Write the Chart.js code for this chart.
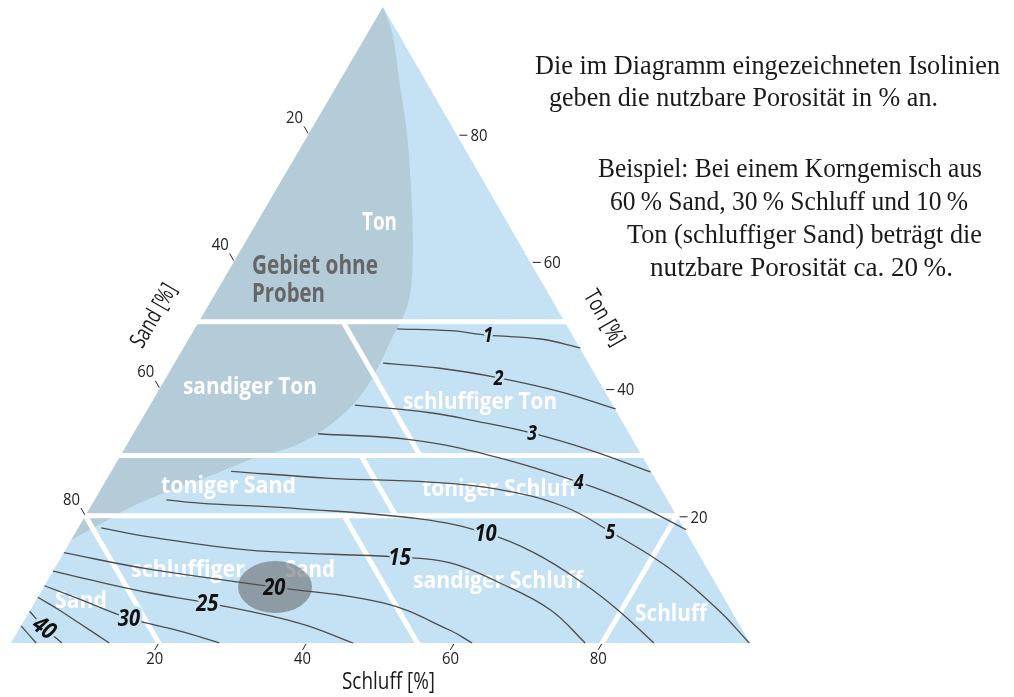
<!DOCTYPE html>
<html><head><meta charset="utf-8">
<script src="https://cdn.jsdelivr.net/npm/chart.js@4.4.1/dist/chart.umd.min.js"></script>
<style>html,body{margin:0;padding:0;background:#fff;overflow:hidden}canvas{display:block}</style>
</head><body>
<canvas id="c" width="1014" height="697" style="width:1014px;height:697px"></canvas>
<script>
// ===== DATA (ternary coordinates: [Schluff %, Ton %]; Sand = 100 - Schluff - Ton) =====
const sandTicks = [20, 40, 60, 80];
const schluffTicks = [20, 40, 60, 80];
const tonTicks = [20, 40, 60, 80];

// area without samples (boundary, apex -> left edge)
const gebietOhneProben = [[0,100],[3.3,95.9],[8.3,88.0],[13.2,80.2],[17.7,72.3],[21.9,64.5],[24.8,58.6],[26.7,53.9],[27.3,50.8],[27.4,48.1],[27.8,44.0],[27.7,38.7],[26.1,34.6],[23.3,31.4],[20.4,29.9],[17.8,28.8],[14.4,26.7],[10.5,24.5],[6.3,22.0],[3.5,19.5],[0,16.2]];

// soil-class borders (white lines)
const zoneBorders = [
  [[-1,50.5],[50.5,50.5]],
  [[-1,29.5],[71.5,29.5]],
  [[-1,20],[81,20]],
  [[19.5,50.5],[40.5,29.5]],
  [[32.5,29.5],[42,20]],
  [[0,20],[20.5,-0.5]],
  [[35,20],[55.5,-0.5]],
  [[80,20],[80,-0.5]]
];

// isolines of usable porosity (%)
const iso1  = [[27.4,49.4],[34.7,49.1],[40.2,48.4],[47.6,47.8],[53.7,46.4]];
const iso2  = [[28.2,44.0],[36.3,43.2],[45.0,41.7],[54.5,39.5],[63.3,36.8]];
const iso3  = [[27.7,37.4],[38.5,36.2],[45.3,34.9],[53.9,33.0],[63.2,30.3],[73.0,26.9]];
const iso4  = [[25.0,32.9],[38.4,31.9],[51.1,29.2],[64.1,25.3],[73.2,22.0],[82.4,17.8]];
const iso5  = [[16.2,27.0],[30.1,25.9],[44.0,25.3],[53.6,24.2],[63.9,21.5],[72.3,17.5],[82.9,11.9],[93.1,5.2],[99.9,0]];
const iso10 = [[9.7,22.5],[14.4,22.0],[28.5,21.1],[45.5,19.5],[55.5,17.3],[63.6,14.2],[72.7,9.4],[79.5,5.2],[87.0,0]];
const iso15 = [[3.1,18.1],[10.3,16.7],[24.9,14.6],[45.8,13.5],[53.1,12.6],[61.5,9.4],[70.4,5.2],[77.7,0]];
const iso20 = [[0,14.2],[12.9,11.6],[31.2,8.8],[47.2,6.3],[58.4,2.0],[62.4,0]];
const iso25 = [[0,11.3],[7.1,9.6],[14.7,7.9],[23.4,6.3],[37.5,3.1],[46.3,0]];
const iso30 = [[0,9.0],[5.8,6.9],[14.0,3.9],[21.8,1.9],[28.2,0]];
const iso35 = [[0,7.2],[3.9,5.2],[7.7,3.1],[13.3,0]];
const iso40 = [[0,5.0],[3.3,2.4],[6.9,0]];
const iso45 = [[0,2.7],[3.4,0]];
const isoValues = [1, 2, 3, 4, 5, 10, 15, 20, 25, 30, 35, 40, 45];
const isoLines  = [iso1, iso2, iso3, iso4, iso5, iso10, iso15, iso20, iso25, iso30, iso35, iso40, iso45];
const isoLabelAt = [2, 2, 3, 3, 5, 4, 3, 2, 3, 2, null, 1, null];

// worked example: 60 % Sand, 30 % Schluff, 10 % Ton (marker)
const examplePoint = [31.3, 8.8];

// ===== LAYOUT / STYLE =====
const V = {L:[11,643], R:[750,643], T:[383,7]};
function tern(p){
  const s = p[0], t = p[1];
  return {x: V.L[0] + (V.R[0]-V.L[0])*s/100 + (V.T[0]-V.L[0])*t/100,
          y: V.L[1] + (V.T[1]-V.L[1])*t/100};
}
const BLUE = '#c4e2f3', GRAY = '#b4cbd8', ISO = '#4d4d4d';
const ELLIPSE = 'rgba(100,104,106,0.58)', ELLIPSE_BG = '#8f9ca3';
const SANS = '"Open Sans", Roboto, "DejaVu Sans", sans-serif';
const SERIF = '"Liberation Serif", "DejaVu Serif", serif';

const zoneTexts = [
  {t:'Ton', x:362, y:230, w:35, s:25, c:'#fff'},
  {t:'Gebiet ohne', x:252, y:274, w:126, s:27, c:'#666'},
  {t:'Proben', x:252, y:302, w:73, s:27, c:'#666'},
  {t:'sandiger Ton', x:183, y:394, w:134, s:24, c:'#fff'},
  {t:'schluffiger Ton', x:403, y:409, w:154, s:24, c:'#fff'},
  {t:'toniger Sand', x:161, y:493, w:135, s:24, c:'#fff'},
  {t:'toniger Schluff', x:422, y:496, w:155, s:24, c:'#fff'},
  {t:'schluffiger', x:131, y:577, w:114, s:24, c:'#fff'},
  {t:'Sand', x:285, y:577, w:50, s:24, c:'#fff'},
  {t:'sandiger Schluff', x:413, y:588, w:170, s:24, c:'#fff'},
  {t:'Schluff', x:635, y:621, w:72, s:24, c:'#fff'},
  {t:'Sand', x:55, y:608, w:52, s:24, c:'#fff'}
];
const noteLines = [
  {t:'Die im Diagramm eingezeichneten Isolinien', x:535, y:74, w:465},
  {t:'geben die nutzbare Porosität in % an.', x:549, y:106, w:389},
  {t:'Beispiel: Bei einem Korngemisch aus', x:598, y:177, w:384},
  {t:'60\u2009% Sand, 30\u2009% Schluff und 10\u2009%', x:610, y:210, w:358},
  {t:'Ton (schluffiger Sand) beträgt die', x:627, y:243, w:355},
  {t:'nutzbare Porosität ca. 20\u2009%.', x:650, y:276, w:303}
];

function fitText(ctx, text, x, y, w, font, color, align, rot, base){
  ctx.save();
  ctx.font = font;
  const mw = ctx.measureText(text).width || 1;
  ctx.translate(x, y);
  if (rot) ctx.rotate(rot);
  ctx.scale(w / mw, 1);
  ctx.textAlign = align || 'left';
  ctx.textBaseline = base || 'alphabetic';
  ctx.fillStyle = color;
  ctx.fillText(text, 0, 0);
  ctx.restore();
}

// ===== DATASETS =====
const datasets = [];
datasets.push({label:'Dreieck', data:[[0,0],[100,0],[0,100]].map(tern), fill:'shape',
  backgroundColor:BLUE, borderColor:'rgba(0,0,0,0)', borderWidth:0, tension:0, order:1000});
datasets.push({label:'Gebiet ohne Proben', data:gebietOhneProben.map(tern), fill:'shape',
  backgroundColor:GRAY, borderColor:'rgba(0,0,0,0)', borderWidth:0, tension:0.4, order:990});
zoneBorders.forEach((seg, i) => datasets.push({label:'Grenze'+i, data:seg.map(tern), fill:false,
  borderColor:'#ffffff', borderWidth:5, tension:0, order:900-i}));
datasets.push({label:'mid', role:'mid', data:[], fill:false, order:500});
isoLines.forEach((pts, i) => datasets.push({label:'Isolinie '+isoValues[i], data:pts.map(tern), fill:false,
  borderColor:ISO, borderWidth:1.3, tension:0.4, order:100-i}));

const deco = {
  id:'deco',
  afterDatasetDraw(chart, args){
    const ds = chart.data.datasets[args.index];
    if (ds.role !== 'mid') return;
    const ctx = chart.ctx;
    zoneTexts.forEach(z => fitText(ctx, z.t, z.x, z.y, z.w, 'bold '+z.s+'px '+SANS, z.c, 'left'));
    // example ellipse
    const xs = chart.scales.x, ys = chart.scales.y;
    const p = tern(examplePoint);
    ctx.save();
    ctx.beginPath();
    ctx.ellipse(xs.getPixelForValue(p.x), ys.getPixelForValue(p.y), 37, 26, 0, 0, Math.PI*2);
    ctx.fillStyle = ELLIPSE;
    ctx.fill();
    ctx.restore();
  },
  afterDatasetsDraw(chart){
    const ctx = chart.ctx;
    const xs = chart.scales.x, ys = chart.scales.y;
    const px = p => ({x: xs.getPixelForValue(p.x), y: ys.getPixelForValue(p.y)});
    // isoline labels
    isoLines.forEach((pts, i) => {
      const k = isoLabelAt[i];
      if (k === null) return;
      const q = px(tern(pts[k]));
      const v = isoValues[i];
      const size = v >= 10 ? 24 : 21;
      const bg = v === 20 ? ELLIPSE_BG : BLUE;
      ctx.save();
      ctx.translate(q.x, q.y);
      if (v === 40) ctx.rotate(0.62);
      ctx.scale(0.84, 1);
      ctx.font = 'italic bold '+size+'px '+SANS;
      ctx.textAlign = 'center'; ctx.textBaseline = 'middle';
      ctx.lineJoin = 'round'; ctx.lineWidth = 6; ctx.strokeStyle = bg;
      ctx.strokeText(String(v), 0, 1);
      ctx.fillStyle = '#111';
      ctx.fillText(String(v), 0, 1);
      ctx.restore();
    });
    // ticks
    ctx.save();
    ctx.strokeStyle = '#222'; ctx.lineWidth = 1;
    const tickFont = '17px '+SANS;
    sandTicks.forEach(v => {
      const p = px(tern([0, 100 - v]));
      const d = [-0.5, -0.866];
      ctx.beginPath(); ctx.moveTo(p.x + d[0]*1, p.y + d[1]*1); ctx.lineTo(p.x + d[0]*9, p.y + d[1]*9); ctx.stroke();
      fitText(ctx, String(v), p.x - 14, p.y - 16, 17, tickFont, '#222', 'center', 0, 'middle');
    });
    tonTicks.forEach(v => {
      const p = px(tern([100 - v, v]));
      ctx.beginPath(); ctx.moveTo(p.x + 3, p.y + 1); ctx.lineTo(p.x + 11, p.y + 1); ctx.stroke();
      fitText(ctx, String(v), p.x + 14, p.y + 2, 17, tickFont, '#222', 'left', 0, 'middle');
    });
    schluffTicks.forEach(v => {
      const p = px(tern([v, 0]));
      const d = [-0.504, 0.864];
      ctx.beginPath(); ctx.moveTo(p.x + d[0]*1, p.y + d[1]*1); ctx.lineTo(p.x + d[0]*8, p.y + d[1]*8); ctx.stroke();
      fitText(ctx, String(v), p.x - 4, p.y + 16, 17, tickFont, '#222', 'center', 0, 'middle');
    });
    ctx.restore();
    // axis titles
    fitText(ctx, 'Schluff [%]', 342, 689, 93, '23px '+SANS, '#1a1a1a', 'left');
    fitText(ctx, 'Sand [%]', 154, 316, 70, '23px '+SANS, '#1a1a1a', 'center', -Math.PI/3, 'middle');
    fitText(ctx, 'Ton [%]', 604, 318, 60, '23px '+SANS, '#1a1a1a', 'center', Math.PI/3, 'middle');
    // explanatory note
    noteLines.forEach(l => fitText(ctx, l.t, l.x, l.y, l.w, '27px '+SERIF, '#1a1a1a', 'left'));
  }
};

new Chart(document.getElementById('c'), {
  type: 'line',
  data: {datasets},
  options: {
    responsive: false, animation: false, devicePixelRatio: 1, events: [],
    layout: {padding: 0},
    scales: {
      x: {type:'linear', min:0, max:1014, display:false},
      y: {type:'linear', min:0, max:697, reverse:true, display:false}
    },
    plugins: {legend:{display:false}, tooltip:{enabled:false}},
    elements: {point:{radius:0, hoverRadius:0}, line:{borderCapStyle:'butt', borderJoinStyle:'round'}}
  },
  plugins: [deco]
});
</script>
</body></html>
